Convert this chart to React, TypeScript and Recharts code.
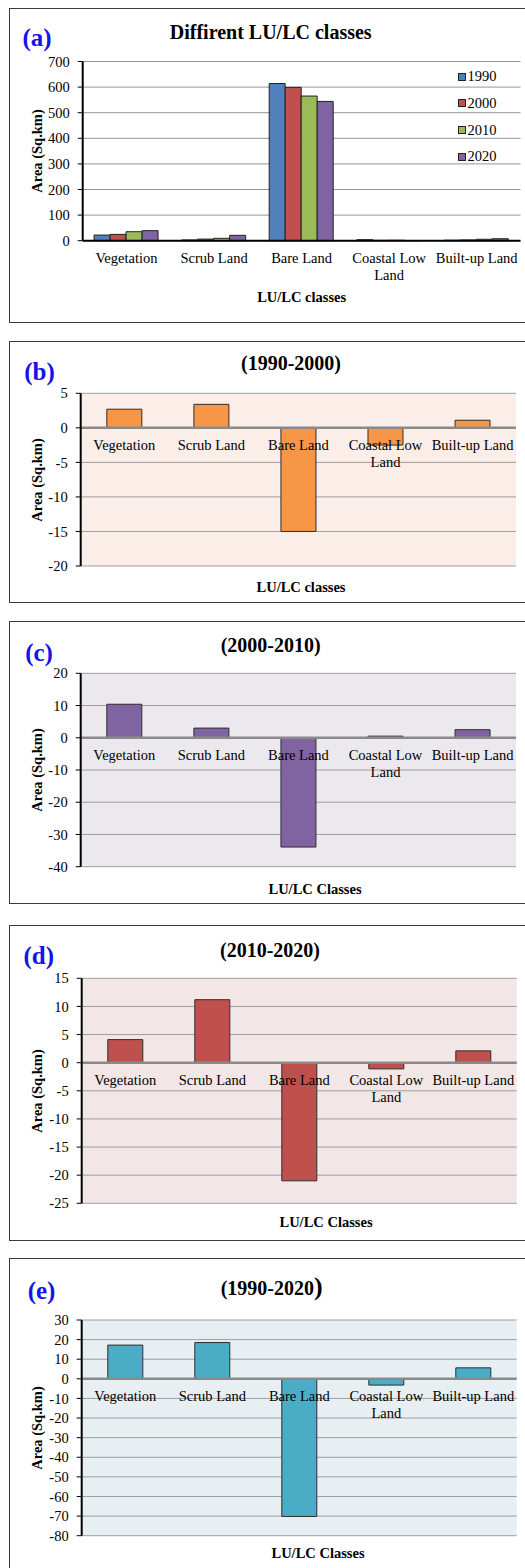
import React from 'react';
import {
  BarChart,
  Bar,
  XAxis,
  YAxis,
  CartesianGrid,
  Legend,
  LabelList,
  ReferenceLine,
  Text,
} from 'recharts';

const SERIF = "'Liberation Serif', 'Times New Roman', serif";

// LU/LC classes
const categories = ['Vegetation', 'Scrub Land', 'Bare Land', 'Coastal Low Land', 'Built-up Land'];

// Area (Sq.km) per class and year
const area1990 = [22, 3, 614, 4, 2];
const area2000 = [24.7, 6.3, 599, 1.5, 3.1];
const area2010 = [35.1, 9.3, 565, 1.8, 5.6];
const area2020 = [39.2, 21, 544, 0.6, 7.7];

const yearLabels = ['1990', '2000', '2010', '2020'];
const yearColors = ['#4f81bd', '#c0504d', '#9bbb59', '#8064a2'];
const areaTicks = [0, 100, 200, 300, 400, 500, 600, 700];

// Change in area (Sq.km) between periods
const change1990to2000 = [2.7, 3.4, -15, -2.5, 1.1];
const change2000to2010 = [10.4, 3.0, -33.9, 0.5, 2.5];
const change2010to2020 = [4.1, 11.2, -21.0, -1.1, 2.1];
const change1990to2020 = [17.2, 18.5, -70.2, -3.2, 5.6];

const ticks1990to2000 = [-20, -15, -10, -5, 0, 5];
const ticks2000to2010 = [-40, -30, -20, -10, 0, 10, 20];
const ticks2010to2020 = [-25, -20, -15, -10, -5, 0, 5, 10, 15];
const ticks1990to2020 = [-80, -70, -60, -50, -40, -30, -20, -10, 0, 10, 20, 30];

const compositionData = categories.map((name, i) => ({
  name,
  y1990: area1990[i],
  y2000: area2000[i],
  y2010: area2010[i],
  y2020: area2020[i],
}));

const FONT = 14.5;
const tickStyle = { fill: '#000', fontSize: FONT, fontFamily: SERIF };

function Caption({
  x,
  y,
  size,
  bold = true,
  color = '#000',
  rotate = false,
  children,
}: {
  x: number;
  y: number;
  size: number;
  bold?: boolean;
  color?: string;
  rotate?: boolean;
  children: React.ReactNode;
}) {
  return (
    <div
      style={{
        position: 'absolute',
        left: x,
        top: y,
        transform: `translate(-50%, -50%)${rotate ? ' rotate(-90deg)' : ''}`,
        fontFamily: SERIF,
        fontSize: size,
        fontWeight: bold ? 700 : 400,
        color,
        whiteSpace: 'nowrap',
        lineHeight: 1,
      }}
    >
      {children}
    </div>
  );
}

// Panel outline; its right side runs past the page edge
function Frame({ top, height }: { top: number; height: number }) {
  return (
    <div
      style={{
        position: 'absolute',
        left: 9,
        top,
        width: 530,
        height,
        boxSizing: 'border-box',
        borderTop: '1.5px solid #3a3a3a',
        borderLeft: '1.5px solid #3a3a3a',
        borderBottom: '1.5px solid #3a3a3a',
      }}
    />
  );
}

function CategoryText({ x, y, label }: { x: number; y: number; label: string }) {
  return (
    <Text
      x={x}
      y={y}
      width={95}
      textAnchor="middle"
      verticalAnchor="start"
      lineHeight={16.7}
      fill="#000"
      fontSize={FONT}
      fontFamily={SERIF}
      style={{ fontSize: FONT, fontFamily: SERIF }}
    >
      {label}
    </Text>
  );
}

function CategoryTick(props: any) {
  const { x, y, payload } = props;
  return <CategoryText x={x} y={y + 12} label={String(payload.value)} />;
}

function makeZeroLabel(values: number[]) {
  return function ZeroLabel(props: any) {
    const vb = props.viewBox && props.viewBox.width != null ? props.viewBox : props;
    const x = Number(vb.x);
    const y = Number(vb.y);
    const w = Number(vb.width);
    const h = Number(vb.height);
    const idx = props.index;
    const value = idx != null ? values[idx] : Number(props.value);
    const top = Math.min(y, y + h);
    const bottom = Math.max(y, y + h);
    const zeroY = value >= 0 ? bottom : top;
    const label = idx != null ? categories[idx] : '';
    return <CategoryText x={x + w / 2} y={zeroY + 12} label={label} />;
  };
}

function YearLegend(props: any) {
  const payload = props.payload || [];
  return (
    <div style={{ display: 'flex', flexDirection: 'column' }}>
      {payload.map((item: any) => (
        <div
          key={item.value}
          style={{ height: 26.7, display: 'flex', alignItems: 'center', fontFamily: SERIF, fontSize: FONT }}
        >
          <span
            style={{
              display: 'inline-block',
              width: 6,
              height: 6,
              background: item.color,
              border: '1px solid #222',
              marginRight: 1.5,
            }}
          />
          <span style={{ color: '#000' }}>{item.value}</span>
        </div>
      ))}
    </div>
  );
}

function CompositionChart() {
  return (
    <div style={{ position: 'absolute', left: 0, top: 0 }}>
      <BarChart
        width={525}
        height={330}
        data={compositionData}
        margin={{ top: 61.5, right: 4.5, bottom: 39.3, left: 42.7 }}
        barCategoryGap="13%"
        barGap={0}
      >
        <CartesianGrid vertical={false} stroke="#959595" fill="#ffffff" />
        <XAxis
          dataKey="name"
          height={50}
          interval={0}
          tickLine={false}
          tickSize={0}
          tickMargin={0}
          axisLine={{ stroke: '#000', strokeWidth: 2 }}
          tick={<CategoryTick />}
        />
        <XAxis
          xAxisId="top"
          orientation="top"
          dataKey="name"
          height={0}
          tick={false}
          tickLine={false}
          axisLine={{ stroke: '#222', strokeWidth: 1 }}
        />
        <YAxis
          type="number"
          domain={[0, 700]}
          ticks={areaTicks}
          interval={0}
          width={40}
          tickSize={5}
          tickMargin={8}
          axisLine={{ stroke: '#000', strokeWidth: 2 }}
          tickLine={{ stroke: '#000' }}
          tick={tickStyle}
        />
        <YAxis
          yAxisId="r"
          orientation="right"
          type="number"
          domain={[0, 700]}
          width={0}
          tick={false}
          tickLine={false}
          axisLine={{ stroke: '#333', strokeWidth: 1 }}
        />
        <Legend
          layout="vertical"
          align="center"
          verticalAlign="middle"
          wrapperStyle={{ left: 458, top: 63.3, width: 70 }}
          content={<YearLegend />}
        />
        {['y1990', 'y2000', 'y2010', 'y2020'].map((key, i) => (
          <Bar
            key={key}
            dataKey={key}
            name={yearLabels[i]}
            fill={yearColors[i]}
            stroke="#222"
            strokeWidth={1}
            isAnimationActive={false}
          />
        ))}
      </BarChart>
    </div>
  );
}

type ChangeProps = {
  values: number[];
  ticks: number[];
  color: string;
  background: string;
  top: number;
  height: number;
  margin: { top: number; right: number; bottom: number; left: number };
};

function ChangeChart({ values, ticks, color, background, top, height, margin }: ChangeProps) {
  const data = categories.map((name, i) => ({ name, value: values[i] }));
  const domain: [number, number] = [ticks[0], ticks[ticks.length - 1]];
  const ZeroLabel = makeZeroLabel(values);
  return (
    <div style={{ position: 'absolute', left: 0, top }}>
      <BarChart width={525} height={height} data={data} margin={margin} barCategoryGap="30%">
        <CartesianGrid vertical={false} stroke="#9e9e9e" fill={background} />
        <XAxis
          dataKey="name"
          height={0}
          tick={false}
          tickLine={false}
          axisLine={{ stroke: '#000', strokeWidth: 1.5 }}
        />
        <XAxis
          xAxisId="top"
          orientation="top"
          dataKey="name"
          height={0}
          tick={false}
          tickLine={false}
          axisLine={{ stroke: '#000', strokeWidth: 1.2 }}
        />
        <YAxis
          type="number"
          domain={domain}
          ticks={ticks}
          interval={0}
          width={40}
          tickSize={5}
          tickMargin={8}
          axisLine={{ stroke: '#000', strokeWidth: 2 }}
          tickLine={{ stroke: '#000' }}
          tick={tickStyle}
        />
        <YAxis
          yAxisId="r"
          orientation="right"
          type="number"
          domain={domain}
          width={0}
          tick={false}
          tickLine={false}
          axisLine={{ stroke: '#000', strokeWidth: 1.2 }}
        />
        <ReferenceLine y={0} stroke="#8a8a8a" strokeWidth={2.5} />
        <Bar dataKey="value" fill={color} stroke="#2e2e2e" strokeWidth={1} isAnimationActive={false}>
          <LabelList dataKey="value" content={<ZeroLabel />} />
        </Bar>
      </BarChart>
    </div>
  );
}

export default function App() {
  return (
    <div
      style={{
        position: 'fixed',
        left: 0,
        top: 0,
        width: 525,
        height: 1568,
        overflow: 'hidden',
        background: '#fff',
        fontFamily: SERIF,
      }}
    >
      {/* (a) */}
      <Frame top={8} height={315} />
      <CompositionChart />
      <Caption x={37} y={36.7} size={25} color="#1414e6">(a)</Caption>
      <Caption x={270.7} y={31.7} size={20}>Diffirent LU/LC classes</Caption>
      <Caption x={37} y={151} size={FONT} rotate>Area (Sq.km)</Caption>
      <Caption x={301.7} y={296.7} size={FONT}>LU/LC classes</Caption>

      {/* (b) */}
      <Frame top={341} height={262} />
      <ChangeChart
        values={change1990to2000}
        ticks={ticks1990to2000}
        color="#f79646"
        background="#fbede7"
        top={330}
        height={280}
        margin={{ top: 63.3, right: 9, bottom: 44, left: 40.7 }}
      />
      <Caption x={39.5} y={370.7} size={25} color="#1414e6">(b)</Caption>
      <Caption x={291} y={363} size={20}>(1990-2000)</Caption>
      <Caption x={37} y={479.7} size={FONT} rotate>Area (Sq.km)</Caption>
      <Caption x={301} y={586.7} size={FONT}>LU/LC classes</Caption>

      {/* (c) */}
      <Frame top={621} height={283} />
      <ChangeChart
        values={change2000to2010}
        ticks={ticks2000to2010}
        color="#8064a2"
        background="#ebe8ee"
        top={610}
        height={300}
        margin={{ top: 63.3, right: 9, bottom: 43.3, left: 40.7 }}
      />
      <Caption x={39} y={651.7} size={25} color="#1414e6">(c)</Caption>
      <Caption x={270.7} y={645} size={20}>(2000-2010)</Caption>
      <Caption x={37} y={770} size={FONT} rotate>Area (Sq.km)</Caption>
      <Caption x={315} y={889.3} size={FONT}>LU/LC Classes</Caption>

      {/* (d) */}
      <Frame top={925} height={316} />
      <ChangeChart
        values={change2010to2020}
        ticks={ticks2010to2020}
        color="#c0504d"
        background="#f2e6e6"
        top={910}
        height={330}
        margin={{ top: 68.3, right: 8.3, bottom: 36.7, left: 41.7 }}
      />
      <Caption x={38.8} y={955} size={25} color="#1414e6">(d)</Caption>
      <Caption x={270} y={950} size={20}>(2010-2020)</Caption>
      <Caption x={37} y={1090.8} size={FONT} rotate>Area (Sq.km)</Caption>
      <Caption x={326} y={1221.7} size={FONT}>LU/LC Classes</Caption>

      {/* (e) */}
      <Frame top={1258} height={330} />
      <ChangeChart
        values={change1990to2020}
        ticks={ticks1990to2020}
        color="#4bacc6"
        background="#e8eff2"
        top={1250}
        height={318}
        margin={{ top: 70, right: 8.3, bottom: 32.3, left: 41.7 }}
      />
      <Caption x={41.5} y={1290} size={25} color="#1414e6">(e)</Caption>
      <Caption x={271.7} y={1287} size={20}>
        (1990-2020<span style={{ fontSize: 26 }}>)</span>
      </Caption>
      <Caption x={37} y={1427.9} size={FONT} rotate>Area (Sq.km)</Caption>
      <Caption x={318} y={1552.7} size={FONT}>LU/LC Classes</Caption>
    </div>
  );
}
